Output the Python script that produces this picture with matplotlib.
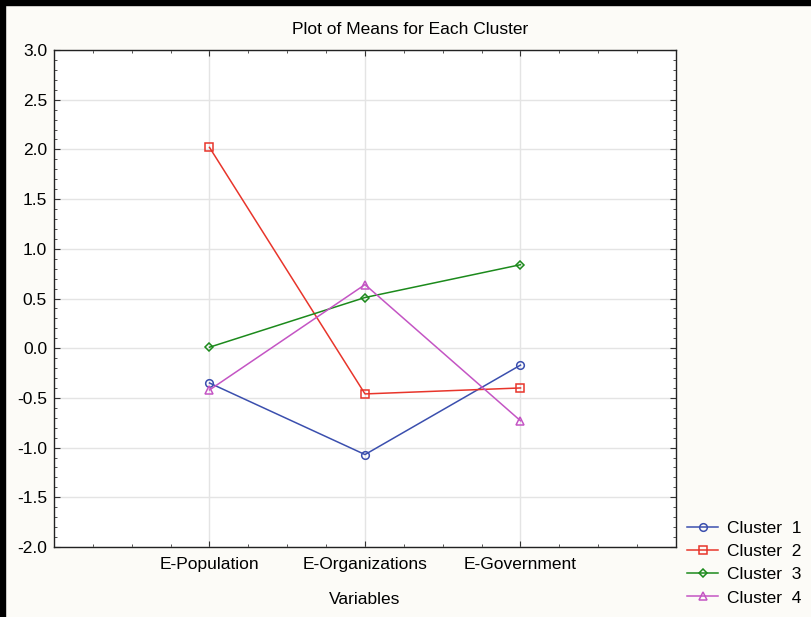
import matplotlib
matplotlib.use("Agg")
import matplotlib.pyplot as plt
from matplotlib.patches import Rectangle
from matplotlib.ticker import MultipleLocator, FormatStrFormatter
import numpy as np

plt.rcParams['font.family'] = ['Liberation Sans', 'DejaVu Sans']

# data
variables = ["E-Population", "E-Organizations", "E-Government"]
cluster1 = [-0.35, -1.07, -0.17]
cluster2 = [2.02, -0.46, -0.40]
cluster3 = [0.01, 0.51, 0.84]
cluster4 = [-0.42, 0.64, -0.73]
series_names = ["Cluster  1", "Cluster  2", "Cluster  3", "Cluster  4"]

colors = ["#3b4fae", "#e8352b", "#1c8a1c", "#c455c4"]
markers = ["o", "s", "D", "^"]
msizes = [5.5, 5.5, 4.5, 5.5]

fs = 12.5
bg = "#fcfbf7"
fig = plt.figure(figsize=(8.12, 6.17), dpi=100, facecolor=bg)
ax = fig.add_axes([54 / 812, 1 - 547 / 617, (676 - 54) / 812, (547 - 50) / 617])
ax.set_facecolor("white")

x = np.arange(1, len(variables) + 1)
for vals, name, c, m, ms in zip([cluster1, cluster2, cluster3, cluster4],
                                series_names, colors, markers, msizes):
    ax.plot(x, vals, color=c, marker=m, markersize=ms, markerfacecolor="none",
            markeredgecolor=c, markeredgewidth=1.1, linewidth=1.1, label=name,
            zorder=3)

ax.set_xlim(0, 4)
ax.set_ylim(-2.0, 3.0)
ax.set_xticks(x)
ax.set_xticklabels(variables)
ax.xaxis.set_minor_locator(MultipleLocator(0.25))
ax.yaxis.set_major_locator(MultipleLocator(0.5))
ax.yaxis.set_minor_locator(MultipleLocator(0.1))
ax.yaxis.set_major_formatter(FormatStrFormatter("%.1f"))
ax.tick_params(which="both", direction="in", top=True, right=True,
               labelsize=fs, color="#333333")
ax.tick_params(which="major", length=4, width=0.8)
ax.tick_params(which="minor", length=2.2, width=0.6)
ax.tick_params(axis="x", which="major", pad=7)
ax.tick_params(axis="y", which="major", pad=5)
ax.grid(True, which="major", color="#e4e4e4", linewidth=1.0, zorder=0)
ax.set_axisbelow(True)
for s in ax.spines.values():
    s.set_linewidth(1.0)
    s.set_color("#222222")

fig.text(410 / 812, 1 - 30 / 617, "Plot of Means for Each Cluster",
         fontsize=fs, ha="center", va="center")
fig.text(365 / 812, 1 - 600 / 617, "Variables", fontsize=fs,
         ha="center", va="center")

fig.legend(loc="upper left", bbox_to_anchor=(687 / 812, 1 - 521 / 617),
           frameon=False, fontsize=fs, handlelength=1.8, handletextpad=0.5,
           labelspacing=0.46, borderpad=0, borderaxespad=0)

# window border on the left and top
fig.patches.append(Rectangle((0, 0), 5 / 812, 1, transform=fig.transFigure,
                             color="black", zorder=10))
fig.patches.append(Rectangle((0, 1 - 5 / 617), 1, 5 / 617,
                             transform=fig.transFigure, color="black", zorder=10))

fig.savefig("out.png", dpi=100, facecolor=bg)
